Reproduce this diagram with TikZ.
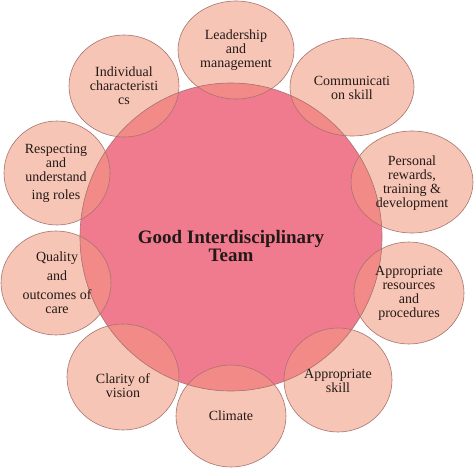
\documentclass[tikz,border=0pt]{standalone}
\usepackage{fontspec}
\setmainfont{Liberation Serif}
\definecolor{outerfill}{HTML}{F7C5B5}
\definecolor{centerfill}{HTML}{F07A8E}
\definecolor{overlapfill}{HTML}{F28A88}
\definecolor{edgecol}{HTML}{A87470}
\definecolor{txt}{HTML}{231A18}
\begin{document}
\begin{tikzpicture}[x=1pt,y=-1pt,
  lbl/.style={align=center, text=txt, font=\fontsize{14}{14}\selectfont, inner sep=0pt},
  mainlbl/.style={align=center, text=txt, font=\fontsize{19}{18}\selectfont\bfseries, inner sep=0pt},
  rim/.style={draw=edgecol, line width=0.6pt}]
\useasboundingbox (0,0) rectangle (474,468);
\fill[white] (0,0) rectangle (474,468);
\def\outerlist{236/50/58/49, 352/87/62/49, 412/182/61/51, 409/293/55/51, 338/380/54/52, 231/416/55/51, 123/377/56/53, 56/283/55/52, 57/173/53/52, 124/86/55/51}
\foreach \cx/\cy/\rx/\ry in \outerlist
  \fill[outerfill] (\cx,\cy) ellipse [x radius=\rx pt, y radius=\ry pt];
\fill[centerfill] (231,237) ellipse [x radius=151pt, y radius=154pt];
\begin{scope}
  \clip (231,237) ellipse [x radius=151pt, y radius=154pt];
  \foreach \cx/\cy/\rx/\ry in \outerlist
    \fill[overlapfill] (\cx,\cy) ellipse [x radius=\rx pt, y radius=\ry pt];
\end{scope}
\draw[rim] (231,237) ellipse [x radius=151pt, y radius=154pt];
\foreach \cx/\cy/\rx/\ry in \outerlist
  \draw[rim] (\cx,\cy) ellipse [x radius=\rx pt, y radius=\ry pt];

\node[mainlbl] (team) at (231,246) {Good Interdisciplinary\\Team};
\node[lbl] (lead) at (236,50) {Leadership\\and\\management};
\node[lbl] (comm) at (352,88) {Communicati\\on skill};
\node[lbl] (pers) at (412,183) {Personal\\rewards,\\training \&\\development};
\node[lbl] (res) at (409,293) {Appropriate\\resources\\and\\procedures};
\node[lbl] (skill) at (338,381) {Appropriate\\skill};
\node[lbl] (clim) at (231,416) {Climate};
\node[lbl] (clar) at (123,386) {Clarity of\\vision};
\node[lbl] (qual) at (57,283) {Quality\\[5pt]and\\[5pt]outcomes of\\care};
\node[lbl] (resp) at (56,173) {Respecting\\and\\understand\\[4pt]ing roles};
\node[lbl] (indiv) at (124,86) {Individual\\characteristi\\cs};
\end{tikzpicture}
\end{document}
